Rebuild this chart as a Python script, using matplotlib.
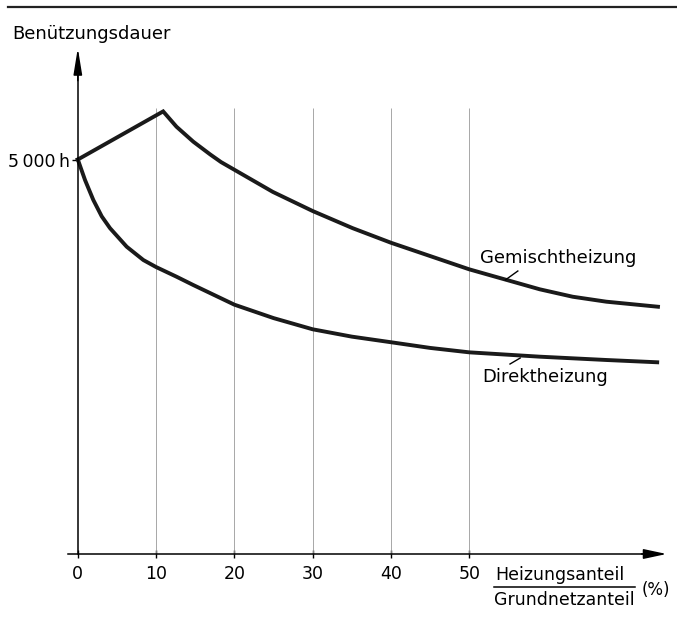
import matplotlib.pyplot as plt

# values (x in %, y in hours)
gemisch_x = [0, 10.9, 12.6, 14.75, 16.9, 18.3, 20, 24.9, 30, 35.1, 40, 50, 54.8, 59, 63.2, 67.5, 74.1]
gemisch_h = [5000, 5610, 5416, 5226, 5065, 4967, 4870, 4590, 4347, 4130, 3945, 3608, 3473, 3355, 3261, 3198, 3134]

direkt_x = [0, 0.92, 1.98, 3.05, 4.11, 6.24, 8.37, 10, 12.6, 14.75, 20, 25, 30, 35, 40, 45, 50, 59, 67.5, 74]
direkt_h = [5000, 4740, 4487, 4280, 4130, 3895, 3726, 3637, 3515, 3409, 3160, 2990, 2848, 2755, 2684, 2612, 2556, 2501, 2459, 2430]

x_ticks = [0, 10, 20, 30, 40, 50]
grid_x = [10, 20, 30, 40, 50]

fig = plt.figure(figsize=(6.77, 6.19), dpi=100)
ax = fig.add_axes([0, 0, 1, 1])
ax.set_xlim(-9.94, 76.53)
ax.set_ylim(-824, 7022)

# axes through the origin
for s in ['top', 'right']:
    ax.spines[s].set_visible(False)
ax.spines['left'].set_position(('data', 0))
ax.spines['bottom'].set_position(('data', 0))
ax.spines['left'].set_bounds(0, 6200)
ax.spines['bottom'].set_bounds(-1.3, 73)
ax.spines['left'].set_linewidth(1.1)
ax.spines['bottom'].set_linewidth(1.1)

ax.annotate('', xy=(0, 6413), xytext=(0, 6000),
            arrowprops=dict(arrowstyle='-|>,head_length=1.6,head_width=0.26',
                            mutation_scale=10, color='k', lw=1.1,
                            shrinkA=0, shrinkB=0))
ax.annotate('', xy=(75.2, 0), xytext=(72, 0),
            arrowprops=dict(arrowstyle='-|>,head_length=1.4,head_width=0.3',
                            mutation_scale=10, color='k', lw=1.1,
                            shrinkA=0, shrinkB=0))

ax.set_xticks(x_ticks)
ax.set_xticklabels([str(v) for v in x_ticks])
ax.tick_params(axis='x', direction='inout', length=6, width=1, labelsize=12.5, pad=5)
ax.set_yticks([5000])
ax.set_yticklabels(['5\u2009000\u2009h'])
ax.tick_params(axis='y', direction='out', length=4.5, width=1, labelsize=12.5, pad=1)

# thin vertical lines
ax.vlines(grid_x, 0, 5650, colors='0.6', lw=0.6)

# curves
ax.plot(gemisch_x, gemisch_h, color='#1a1a1a', lw=2.8, solid_joinstyle='miter')
ax.plot(direkt_x, direkt_h, color='#1a1a1a', lw=2.8, solid_joinstyle='round')

# curve labels with small leaders
ax.text(51.4, 3752, 'Gemischtheizung', fontsize=13, va='center', ha='left')
ax.plot([54.6, 56.2], [3473, 3587], color='k', lw=1)
ax.text(51.7, 2243, 'Direktheizung', fontsize=13, va='center', ha='left')
ax.plot([55.2, 56.5], [2408, 2484], color='k', lw=1)

# axis titles
ax.text(-8.4, 6527, 'Benützungsdauer', fontsize=13, va='baseline', ha='left')
ax.text(53.3, -265, 'Heizungsanteil', fontsize=12.5, va='center', ha='left')
ax.plot([53.1, 71.2], [-418, -418], color='k', lw=1.1)
ax.text(53.1, -583, 'Grundnetzanteil', fontsize=12.5, va='center', ha='left')
ax.text(72.0, -455, '(%)', fontsize=12, va='center', ha='left')

# rule across the top
fig.add_artist(plt.Line2D([0.012, 1.0], [0.9887, 0.9887], color='#222222', lw=1.6))

plt.savefig('out.png', dpi=100)
